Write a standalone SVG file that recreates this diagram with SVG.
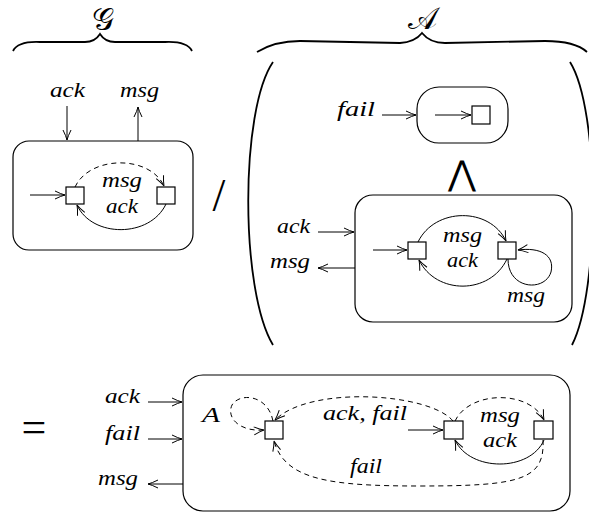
<svg xmlns="http://www.w3.org/2000/svg" width="589" height="512" viewBox="0 0 589 512">
<style>
.t{font-family:"Liberation Serif","DejaVu Serif",serif;font-style:italic;font-size:22px;fill:#000}
.cal{font-family:"DejaVu Sans","Liberation Serif",serif;font-size:31px;fill:#000}
.sym{font-family:"Liberation Serif","DejaVu Serif",serif;fill:#000}
.box{fill:none;stroke:#000;stroke-width:1.2}
.st{fill:#fff;stroke:#000;stroke-width:1.2}
.e{fill:none;stroke:#000;stroke-width:1}
.d{fill:none;stroke:#000;stroke-width:1;stroke-dasharray:5 4}
.a{marker-end:url(#ah)}
.br{fill:none;stroke:#000;stroke-width:1.8}
</style>
<defs>
<marker id="ah" viewBox="0 0 12 10" markerUnits="userSpaceOnUse" markerWidth="12" markerHeight="10" refX="11" refY="5" orient="auto">
<path d="M1,1 Q7,4 11,5 Q7,6 1,9" fill="none" stroke="#000" stroke-width="1"/>
</marker>
</defs>

<g id="braces">
<text class="cal" x="103" y="30" text-anchor="middle">𝒢</text>
<path class="br" d="M13,51 Q18,41 40,42 L85,42 Q95,42 100,34 Q105,42 115,42 L165,42 Q187,41 192,51"/>
<text class="cal" x="422" y="29" text-anchor="middle">𝒜</text>
<path class="br" d="M257,52 Q275,41 300,41 L400,43 Q415,42 422,33 Q430,43 445,43 L545,41 Q575,41 587,52"/>
<path class="br" d="M273,62 C240,110 240,290 273,345"/>
<path class="br" d="M570,62 C600,110 600,290 572,345"/>
</g>

<g id="G">
<rect class="box" x="13" y="141" width="180" height="109" rx="16"/>
<rect class="st" x="66" y="187" width="18" height="17"/>
<rect class="st" x="157" y="187" width="18" height="17"/>
</g>

<g id="A-top">
<rect class="box" x="417" y="87" width="91" height="56" rx="22"/>
<rect class="st" x="472" y="106" width="18" height="18"/>
</g>

<g id="A-main">
<rect class="box" x="355" y="195" width="217" height="127" rx="18"/>
<rect class="st" x="408" y="242" width="18" height="17"/>
<rect class="st" x="498" y="242" width="18" height="17"/>
</g>

<g id="result">
<rect class="box" x="183" y="375" width="387" height="136" rx="20"/>
<rect class="st" x="265" y="421" width="18" height="18"/>
<rect class="st" x="444" y="421" width="19" height="18"/>
<rect class="st" x="534" y="421" width="19" height="18"/>
</g>

<g id="connectors">
<!-- G -->
<path class="e a" d="M67,106 L67,140"/>
<path class="e a" d="M138,141 L138,107"/>
<path class="e a" d="M30,195 L65,195"/>
<path class="d a" d="M75,187 C90,155 150,155 164,186"/>
<path class="e a" d="M166,204 C150,238 92,238 77,205"/>
<!-- A top -->
<path class="e a" d="M382,115 L416,115"/>
<path class="e a" d="M435,115 L471,115"/>
<!-- A main -->
<path class="e a" d="M318,232 L354,232"/>
<path class="e a" d="M355,268 L318,268"/>
<path class="e a" d="M373,250 L407,250"/>
<path class="e a" d="M418,242 C435,207 490,207 506,241"/>
<path class="e a" d="M507,259 C490,295 436,295 419,260"/>
<path class="e a" d="M508,259 C508,290 545,292 551,272 C555,255 540,247 518,250"/>
<!-- result -->
<path class="e a" d="M148,402 L182,402"/>
<path class="e a" d="M148,439 L182,439"/>
<path class="e a" d="M183,484 L148,484"/>
<path class="d a" d="M273,421 C268,395 240,392 232,405 C226,418 240,432 264,430"/>
<path class="d a" d="M453,421 C430,393 310,385 275,420"/>
<path class="e a" d="M408,430 L443,430"/>
<path class="d a" d="M455,421 C470,390 530,390 544,420"/>
<path class="e a" d="M544,440 C530,472 470,472 455,440"/>
<path class="d a" d="M543,440 C545,480 520,486 420,486 C330,486 285,480 274,441"/>
</g>

<g id="labels">
<text class="t" x="50" y="97" textLength="35" lengthAdjust="spacingAndGlyphs">ack</text>
<text class="t" x="120" y="97" textLength="39" lengthAdjust="spacingAndGlyphs">msg</text>
<text class="t" x="102" y="187" textLength="40" lengthAdjust="spacingAndGlyphs">msg</text>
<text class="t" x="106" y="213" textLength="32" lengthAdjust="spacingAndGlyphs">ack</text>
<text class="sym" x="219" y="211" font-size="46" text-anchor="middle">/</text>
<text class="t" x="337" y="116" textLength="38" lengthAdjust="spacingAndGlyphs">fail</text>
<text class="sym" x="462" y="185" font-size="34" text-anchor="middle" font-family="DejaVu Sans">⋀</text>
<text class="t" x="277" y="233" textLength="33" lengthAdjust="spacingAndGlyphs">ack</text>
<text class="t" x="270" y="268" textLength="40" lengthAdjust="spacingAndGlyphs">msg</text>
<text class="t" x="443" y="242" textLength="39" lengthAdjust="spacingAndGlyphs">msg</text>
<text class="t" x="447" y="267" textLength="31" lengthAdjust="spacingAndGlyphs">ack</text>
<text class="t" x="507" y="302" textLength="38" lengthAdjust="spacingAndGlyphs">msg</text>
<text class="sym" x="34" y="442" font-size="44" text-anchor="middle">=</text>
<text class="t" x="105" y="403" textLength="35" lengthAdjust="spacingAndGlyphs">ack</text>
<text class="t" x="105" y="440" textLength="35" lengthAdjust="spacingAndGlyphs">fail</text>
<text class="t" x="98" y="485" textLength="40" lengthAdjust="spacingAndGlyphs">msg</text>
<text class="t" x="202" y="422" textLength="18" lengthAdjust="spacingAndGlyphs">A</text>
<text class="t" x="323" y="420" textLength="84" lengthAdjust="spacingAndGlyphs">ack, fail</text>
<text class="t" x="480" y="422" textLength="40" lengthAdjust="spacingAndGlyphs">msg</text>
<text class="t" x="483" y="447" textLength="34" lengthAdjust="spacingAndGlyphs">ack</text>
<text class="t" x="350" y="473" textLength="32" lengthAdjust="spacingAndGlyphs">fail</text>
</g>
</svg>
